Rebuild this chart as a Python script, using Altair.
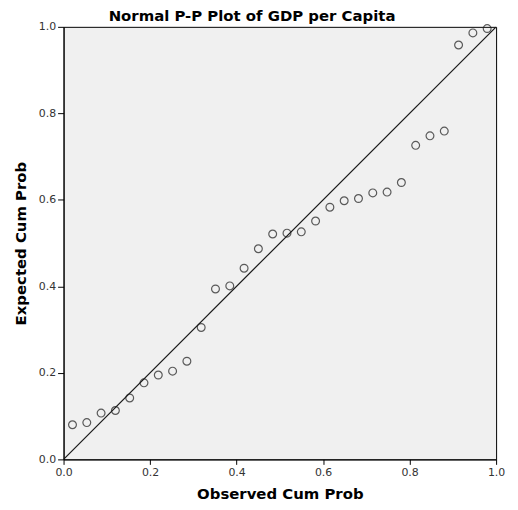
import altair as alt
import pandas as pd

# Observed cumulative probabilities (Blom positions, n = 30)
observed = [(i - 0.375) / 30.25 for i in range(1, 31)]
# Expected cumulative probabilities
expected = [0.080, 0.085, 0.107, 0.113, 0.142, 0.177, 0.195, 0.204, 0.227, 0.305,
            0.394, 0.401, 0.442, 0.487, 0.521, 0.523, 0.526, 0.551, 0.583, 0.598,
            0.603, 0.616, 0.618, 0.640, 0.726, 0.748, 0.759, 0.958, 0.986, 0.996]
line_x = [0.0, 1.0]
line_y = [0.0, 1.0]
tick_values = [0.0, 0.2, 0.4, 0.6, 0.8, 1.0]

pts = pd.DataFrame({"obs": observed, "exp": expected})
diag = pd.DataFrame({"obs": line_x, "exp": line_y})

FONT = "DejaVu Sans"

xscale = alt.Scale(domain=[0, 1], nice=False, zero=False)
yscale = alt.Scale(domain=[0, 1], nice=False, zero=False)

xaxis = alt.Axis(values=tick_values, format=".1f", grid=False, tickSize=5,
                 labelFlush=False, title="Observed Cum Prob", titlePadding=9)
yaxis = alt.Axis(values=tick_values, format=".1f", grid=False, tickSize=6,
                 labelFlush=False, title="Expected Cum Prob", titlePadding=10)

line = alt.Chart(diag).mark_line(color="#1a1a1a", strokeWidth=1.2, clip=True).encode(
    x=alt.X("obs:Q", scale=xscale, axis=xaxis),
    y=alt.Y("exp:Q", scale=yscale, axis=yaxis),
)

points = alt.Chart(pts).mark_point(shape="circle", filled=False, size=62,
                                   color="#1a1a1a", strokeWidth=1.2, clip=False).encode(
    x=alt.X("obs:Q", scale=xscale),
    y=alt.Y("exp:Q", scale=yscale),
)

chart = alt.layer(line, points).properties(
    width=436,
    height=436,
    padding={"left": 56, "top": 17, "right": 14, "bottom": 45},
    autosize=alt.AutoSizeParams(type="none"),
    title=alt.TitleParams("Normal P-P Plot of GDP per Capita", fontSize=15,
                          font=FONT, fontWeight="bold", color="#000000",
                          anchor="middle", offset=-3, dx=-28),
).configure_view(
    fill="#f0f0f0", stroke="#000000", strokeWidth=1
).configure_axis(
    labelFont=FONT, labelFontSize=11, labelColor="#333333",
    titleFont=FONT, titleFontSize=15, titleFontWeight="bold", titleColor="#000000",
    domainColor="#000000", tickColor="#000000", labelPadding=2,
)

chart.save("out.html", embed_options={"renderer": "svg", "actions": False})
